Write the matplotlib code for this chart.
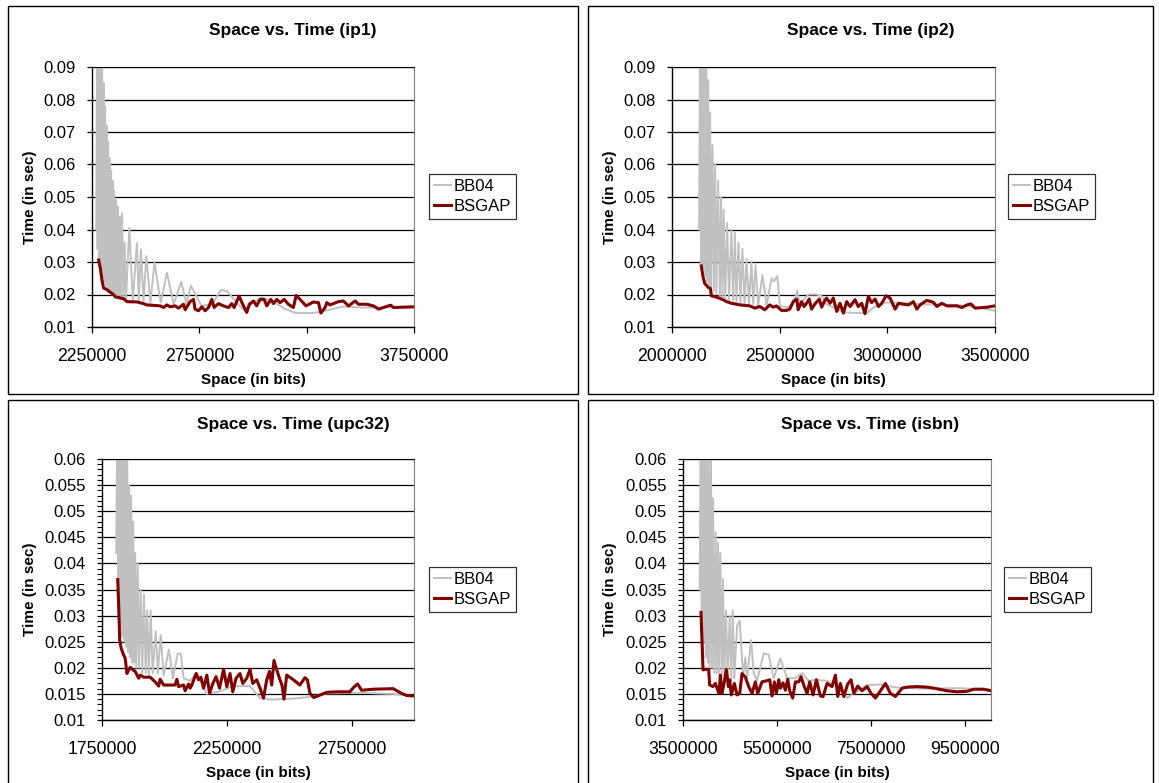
import matplotlib
matplotlib.use('Agg')
import matplotlib.pyplot as plt
from matplotlib.patches import Rectangle
from matplotlib.ticker import FuncFormatter, MultipleLocator
import numpy as np

plt.rcParams['font.family'] = ['Liberation Sans', 'DejaVu Sans']

# space values below are in kbits (x1000 when plotted), time in seconds

# ip1
ip1_bb04_x = [2270, 2273, 2276, 2279, 2282, 2285, 2288, 2291, 2294, 2297, 2300, 2304, 2307, 2311, 2314, 2318,
              2321, 2325, 2328, 2332, 2335, 2339, 2342, 2346, 2349, 2353, 2357, 2361, 2365, 2370, 2374, 2380,
              2384, 2390, 2396, 2402, 2408, 2424, 2440, 2459, 2468, 2478, 2490, 2503, 2522, 2541, 2570, 2599,
              2630, 2666, 2690, 2711, 2760, 2810, 2850, 2880, 2930, 2960, 3000, 3040, 3090, 3150, 3200, 3280,
              3350, 3420, 3500, 3600, 3700, 3750]
ip1_bb04_y = [0.040, 0.095, 0.034, 0.095, 0.030, 0.095, 0.028, 0.095, 0.026, 0.092, 0.025, 0.085, 0.024, 0.078,
              0.023, 0.072, 0.022, 0.067, 0.021, 0.062, 0.021, 0.058, 0.020, 0.055, 0.020, 0.052, 0.019, 0.049,
              0.019, 0.047, 0.019, 0.044, 0.0185, 0.045, 0.0185, 0.036, 0.018, 0.0405, 0.018, 0.0358, 0.018,
              0.0338, 0.018, 0.0318, 0.0175, 0.0298, 0.0175, 0.0267, 0.0170, 0.0239, 0.0170, 0.0227, 0.0165,
              0.0170, 0.0214, 0.0210, 0.0170, 0.0150, 0.0175, 0.0190, 0.0180, 0.0155, 0.0143, 0.0143, 0.0152,
              0.0163, 0.0160, 0.0160, 0.0162, 0.0162]
ip1_bsgap_x = [2281, 2289, 2296, 2304, 2319, 2335, 2350, 2358, 2397, 2413, 2459, 2490, 2505, 2568, 2583, 2599,
               2614, 2638, 2653, 2676, 2684, 2707, 2723, 2730, 2746, 2762, 2777, 2793, 2808, 2819, 2839, 2862,
               2886, 2901, 2912, 2935, 2952, 2971, 2983, 3002, 3017, 3033, 3052, 3064, 3083, 3095, 3111, 3126,
               3145, 3165, 3188, 3201, 3219, 3247, 3281, 3305, 3316, 3336, 3344, 3359, 3398, 3421, 3445, 3476,
               3491, 3530, 3561, 3585, 3631, 3642, 3654, 3750]
ip1_bsgap_y = [0.0306, 0.028, 0.0245, 0.022, 0.0215, 0.0207, 0.0200, 0.0193, 0.0187, 0.0178, 0.0177, 0.0172,
               0.0168, 0.0165, 0.0160, 0.0168, 0.0162, 0.0165, 0.0158, 0.0170, 0.0153, 0.0178, 0.0185, 0.0155,
               0.0150, 0.0162, 0.0150, 0.0160, 0.0185, 0.0160, 0.0172, 0.0165, 0.0160, 0.0172, 0.0160, 0.0195,
               0.0170, 0.0145, 0.0170, 0.0180, 0.0165, 0.0185, 0.0185, 0.0165, 0.0185, 0.0172, 0.0185, 0.0175,
               0.0185, 0.0170, 0.0160, 0.0197, 0.0185, 0.0165, 0.0177, 0.0175, 0.0143, 0.0160, 0.0175, 0.0168,
               0.0178, 0.0180, 0.0165, 0.0180, 0.0170, 0.0170, 0.0165, 0.0155, 0.0165, 0.0167, 0.0160, 0.0162]

# ip2
ip2_bb04_x = [2126, 2130, 2135, 2140, 2144, 2149, 2154, 2159, 2163, 2168, 2172, 2177, 2181, 2188, 2194, 2200,
              2206, 2214, 2222, 2228, 2234, 2240, 2247, 2256, 2265, 2276, 2284, 2292, 2299, 2309, 2318, 2327,
              2337, 2346, 2357, 2369, 2377, 2388, 2400, 2420, 2439, 2462, 2473, 2489, 2501, 2532, 2563, 2582,
              2594, 2633, 2672, 2695, 2718, 2765, 2796, 2904, 2935, 2982, 3059, 3168, 3323, 3400, 3500]
ip2_bb04_y = [0.040, 0.095, 0.029, 0.095, 0.028, 0.095, 0.026, 0.095, 0.024, 0.086, 0.023, 0.076, 0.022, 0.066,
              0.021, 0.060, 0.020, 0.055, 0.019, 0.050, 0.019, 0.046, 0.0185, 0.042, 0.018, 0.040, 0.018, 0.039,
              0.0175, 0.036, 0.0175, 0.034, 0.017, 0.031, 0.017, 0.030, 0.017, 0.029, 0.0165, 0.026, 0.0165,
              0.025, 0.024, 0.0257, 0.0165, 0.016, 0.017, 0.0212, 0.017, 0.020, 0.020, 0.0195, 0.017, 0.0155,
              0.0145, 0.0142, 0.016, 0.0175, 0.0175, 0.0170, 0.0168, 0.0162, 0.015]
ip2_bsgap_x = [2136, 2144, 2152, 2168, 2178, 2183, 2206, 2237, 2253, 2276, 2315, 2361, 2385, 2408, 2431, 2454,
               2470, 2485, 2509, 2532, 2547, 2563, 2579, 2586, 2602, 2613, 2625, 2637, 2648, 2664, 2684, 2695,
               2710, 2718, 2734, 2749, 2765, 2780, 2796, 2811, 2827, 2850, 2865, 2881, 2896, 2912, 2927, 2943,
               2959, 2974, 2994, 3013, 3036, 3052, 3075, 3098, 3121, 3137, 3152, 3183, 3214, 3230, 3253, 3276,
               3323, 3346, 3370, 3388, 3408, 3463, 3500]
ip2_bsgap_y = [0.0288, 0.0255, 0.0234, 0.0222, 0.0219, 0.0196, 0.0192, 0.0184, 0.0178, 0.0173, 0.0168, 0.0165,
               0.0158, 0.0163, 0.0153, 0.0168, 0.0161, 0.0165, 0.0151, 0.0151, 0.0155, 0.0178, 0.0186, 0.0153,
               0.0178, 0.0163, 0.0173, 0.0186, 0.0155, 0.0171, 0.0186, 0.0161, 0.0182, 0.0189, 0.0173, 0.0189,
               0.0148, 0.0173, 0.0143, 0.0178, 0.0163, 0.0184, 0.0163, 0.0173, 0.0141, 0.0194, 0.0175, 0.0186,
               0.0163, 0.0173, 0.0196, 0.0189, 0.0155, 0.0173, 0.0170, 0.0168, 0.0178, 0.0155, 0.0168, 0.0182,
               0.0176, 0.0163, 0.0173, 0.0165, 0.0165, 0.0160, 0.0168, 0.0171, 0.0158, 0.0161, 0.0165]

# upc32
upc_bb04_x = [1807, 1811, 1815, 1819, 1823, 1827, 1831, 1835, 1839, 1843, 1847, 1851, 1855, 1859, 1863, 1867,
              1871, 1875, 1879, 1883, 1887, 1893, 1898, 1905, 1911, 1918, 1925, 1931, 1938, 1945, 1953, 1965,
              1974, 1985, 1997, 2018, 2034, 2053, 2066, 2077, 2103, 2130, 2150, 2170, 2223, 2277, 2343, 2383,
              2423, 2517, 2597, 2650, 2783, 2917, 3000]
upc_bb04_y = [0.042, 0.065, 0.031, 0.065, 0.028, 0.065, 0.026, 0.065, 0.025, 0.065, 0.024, 0.062, 0.023, 0.055,
              0.022, 0.053, 0.021, 0.048, 0.021, 0.042, 0.020, 0.040, 0.020, 0.035, 0.019, 0.034, 0.019, 0.031,
              0.0185, 0.031, 0.019, 0.027, 0.019, 0.0263, 0.0185, 0.0235, 0.018, 0.0227, 0.0227, 0.018, 0.0175,
              0.019, 0.017, 0.015, 0.0155, 0.0165, 0.0165, 0.0142, 0.0139, 0.0141, 0.0145, 0.0151, 0.0152,
              0.0150, 0.0146]
upc_bsgap_x = [1813, 1817, 1821, 1827, 1837, 1843, 1850, 1857, 1863, 1874, 1883, 1897, 1903, 1917, 1943, 1963,
               1977, 1983, 1997, 2023, 2043, 2050, 2057, 2077, 2083, 2097, 2103, 2110, 2127, 2137, 2146, 2157,
               2170, 2181, 2194, 2207, 2221, 2237, 2250, 2263, 2274, 2287, 2303, 2314, 2330, 2343, 2354, 2370,
               2383, 2397, 2410, 2421, 2430, 2439, 2450, 2461, 2471, 2479, 2490, 2517, 2543, 2563, 2573, 2583,
               2599, 2650, 2690, 2743, 2759, 2774, 2790, 2837, 2917, 2950, 2970, 3000]
upc_bsgap_y = [0.0369, 0.0317, 0.0253, 0.0237, 0.0224, 0.0218, 0.0189, 0.0196, 0.0201, 0.0196, 0.0193, 0.0180,
               0.0186, 0.0182, 0.0182, 0.0173, 0.0165, 0.0178, 0.0167, 0.0167, 0.0167, 0.0178, 0.0164, 0.0167,
               0.0156, 0.0169, 0.0161, 0.0167, 0.0189, 0.0177, 0.0182, 0.0161, 0.0186, 0.0151, 0.0170, 0.0183,
               0.0161, 0.0197, 0.0164, 0.0189, 0.0154, 0.0180, 0.0189, 0.0170, 0.0180, 0.0197, 0.0170, 0.0177,
               0.0161, 0.0142, 0.0177, 0.0193, 0.0167, 0.0214, 0.0196, 0.0180, 0.0167, 0.0140, 0.0186, 0.0177,
               0.0167, 0.0181, 0.0177, 0.0151, 0.0143, 0.0153, 0.0154, 0.0154, 0.0163, 0.0169, 0.0157, 0.0159,
               0.0160, 0.0151, 0.0147, 0.0146]

# isbn
isbn_bb04_x = [3855, 3876, 3897, 3918, 3940, 3961, 3982, 4004, 4025, 4046, 4067, 4096, 4117, 4138, 4167, 4195,
               4216, 4245, 4266, 4294, 4323, 4351, 4379, 4415, 4450, 4493, 4528, 4557, 4592, 4649, 4706, 4777,
               4826, 4862, 4947, 5004, 5074, 5216, 5323, 5429, 5571, 5713, 5890, 6032, 6174, 6316, 6564, 6847,
               6989, 7202, 7415, 7699, 8053, 8620, 9330, 10053]
isbn_bb04_y = [0.035, 0.065, 0.027, 0.065, 0.025, 0.065, 0.022, 0.065, 0.021, 0.065, 0.020, 0.060, 0.020, 0.0525,
               0.019, 0.046, 0.019, 0.044, 0.019, 0.042, 0.0185, 0.037, 0.018, 0.031, 0.018, 0.030, 0.0175, 0.031,
               0.018, 0.028, 0.029, 0.0185, 0.022, 0.018, 0.0253, 0.019, 0.0175, 0.0228, 0.0225, 0.018, 0.0218,
               0.018, 0.018, 0.019, 0.0175, 0.0177, 0.0175, 0.0161, 0.0142, 0.0155, 0.0167, 0.0168, 0.0162,
               0.0160, 0.0161, 0.0158]
isbn_bsgap_x = [3883, 3926, 3975, 4046, 4067, 4138, 4188, 4223, 4266, 4294, 4330, 4379, 4422, 4465, 4493, 4528,
                4592, 4649, 4706, 4755, 4826, 4897, 4968, 5039, 5089, 5181, 5273, 5344, 5394, 5443, 5486, 5536,
                5571, 5628, 5677, 5727, 5769, 5833, 5890, 5961, 6011, 6067, 6138, 6195, 6266, 6337, 6422, 6479,
                6564, 6670, 6741, 6791, 6847, 6918, 7003, 7074, 7131, 7216, 7308, 7415, 7500, 7592, 7699, 7805,
                7911, 8018, 8160, 8266, 8479, 8691, 8833, 9117, 9330, 9542, 9684, 9897, 10053]
isbn_bsgap_y = [0.0306, 0.0196, 0.0197, 0.0197, 0.0167, 0.0164, 0.0170, 0.0161, 0.0151, 0.0186, 0.0151, 0.0173,
                0.0197, 0.0164, 0.0177, 0.0148, 0.0170, 0.0148, 0.0151, 0.0189, 0.0182, 0.0164, 0.0151, 0.0173,
                0.0151, 0.0173, 0.0175, 0.0177, 0.0146, 0.0173, 0.0151, 0.0177, 0.0161, 0.0171, 0.0157, 0.0178,
                0.0156, 0.0142, 0.0173, 0.0173, 0.0183, 0.0167, 0.0151, 0.0173, 0.0148, 0.0177, 0.0146, 0.0145,
                0.0170, 0.0164, 0.0186, 0.0145, 0.0170, 0.0145, 0.0169, 0.0177, 0.0151, 0.0165, 0.0156, 0.0164,
                0.0151, 0.0142, 0.0156, 0.0170, 0.0151, 0.0145, 0.0161, 0.0163, 0.0164, 0.0163, 0.0161, 0.0156,
                0.0154, 0.0155, 0.0159, 0.0159, 0.0156]

W, H = 1159, 783
fig = plt.figure(figsize=(W / 100, H / 100), dpi=100)


def px_rect(l, t, r, b):
    return [l / W, 1 - b / H, (r - l) / W, (b - t) / H]


def panel(name, box, axbox, bb_x, bb_y, bs_x, bs_y, xlim, xticks, ylim, ystep, minor, leg_xy):
    l, t, r, b = box
    fig.patches.append(Rectangle((l / W, 1 - b / H), (r - l) / W, (b - t) / H, transform=fig.transFigure,
                                 fill=False, edgecolor='black', linewidth=1.0))
    ax = fig.add_axes(px_rect(*axbox))
    ax.plot(np.array(bb_x) * 1000, bb_y, color='#c0c0c0', lw=1.4, label='BB04')
    ax.plot(np.array(bs_x) * 1000, bs_y, color='#800000', lw=2.2, label='BSGAP')
    ax.set_xlim(*xlim)
    ax.set_ylim(*ylim)
    ax.set_xticks(xticks)
    ax.set_yticks(np.arange(ylim[0], ylim[1] + ystep / 2, ystep))
    ax.xaxis.set_major_formatter(FuncFormatter(lambda v, p: '%d' % v))
    ax.yaxis.set_major_formatter(FuncFormatter(lambda v, p: ('%.3f' % v).rstrip('0')))
    if minor:
        ax.yaxis.set_minor_locator(MultipleLocator(0.001))
        ax.tick_params(axis='y', which='minor', length=3.5, width=0.8)
    ax.grid(axis='y', color='black', lw=0.9)
    ax.set_axisbelow(True)
    ax.tick_params(axis='y', which='major', labelsize=12, length=3.5, width=0.9, pad=8)
    ax.tick_params(axis='x', which='major', labelsize=12.7, length=4, width=0.9, pad=11)
    ax.spines['right'].set_color('#808080')
    ax.spines['top'].set_color('black')
    for s in ('left', 'bottom'):
        ax.spines[s].set_linewidth(1.0)
    cx = (axbox[0] + axbox[2]) / 2
    fig.text((l + r) / 2 / W, 1 - (t + 24) / H, 'Space vs. Time (%s)' % name, ha='center', va='center',
             fontsize=12.5, fontweight='bold')
    fig.text(cx / W, 1 - (axbox[3] + 53) / H, 'Space (in bits)', ha='center', va='center', fontsize=11,
             fontweight='bold')
    fig.text((l + 22) / W, 1 - (axbox[1] + axbox[3]) / 2 / H, 'Time (in sec)', ha='center', va='center',
             rotation=90, fontsize=11, fontweight='bold')
    leg = ax.legend(loc='upper left', bbox_to_anchor=(leg_xy[0] / W, 1 - leg_xy[1] / H),
                    bbox_transform=fig.transFigure, fontsize=12, frameon=True, fancybox=False,
                    edgecolor='black', handlelength=1.0, handletextpad=0.2, borderpad=0.3,
                    borderaxespad=0, labelspacing=0.3)
    leg.get_frame().set_linewidth(0.9)
    return ax


panel('ip1', (8, 6, 578, 394), (92, 67, 414, 327), ip1_bb04_x, ip1_bb04_y, ip1_bsgap_x, ip1_bsgap_y,
      (2250000, 3750000), [2250000, 2750000, 3250000, 3750000], (0.01, 0.09), 0.01, False, (429, 174))
panel('ip2', (588, 6, 1153, 394), (672, 67, 995, 327), ip2_bb04_x, ip2_bb04_y, ip2_bsgap_x, ip2_bsgap_y,
      (2000000, 3500000), [2000000, 2500000, 3000000, 3500000], (0.01, 0.09), 0.01, False, (1008, 174))
panel('upc32', (8, 400, 578, 790), (102, 459, 414, 720), upc_bb04_x, upc_bb04_y, upc_bsgap_x, upc_bsgap_y,
      (1750000, 3000000), [1750000, 2250000, 2750000], (0.01, 0.06), 0.005, True, (429, 567))
panel('isbn', (588, 400, 1153, 790), (683, 459, 991, 720), isbn_bb04_x, isbn_bb04_y, isbn_bsgap_x,
      isbn_bsgap_y, (3500000, 10050000), [3500000, 5500000, 7500000, 9500000], (0.01, 0.06), 0.005, True,
      (1004, 567))

fig.savefig('out.png', dpi=100, facecolor='white')
